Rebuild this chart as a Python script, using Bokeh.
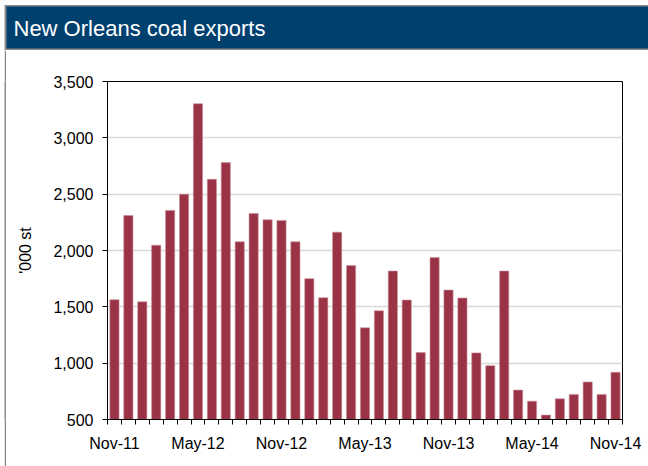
from bokeh.plotting import figure
from bokeh.layouts import column, row
from bokeh.models import FixedTicker, NumeralTickFormatter, Range1d, Spacer
from bokeh.core.properties import value
from bokeh.embed import file_html
from bokeh.resources import INLINE

# ---- data ----
months = ["Nov-11", "Dec-11", "Jan-12", "Feb-12", "Mar-12", "Apr-12", "May-12", "Jun-12",
          "Jul-12", "Aug-12", "Sep-12", "Oct-12", "Nov-12", "Dec-12", "Jan-13", "Feb-13",
          "Mar-13", "Apr-13", "May-13", "Jun-13", "Jul-13", "Aug-13", "Sep-13", "Oct-13",
          "Nov-13", "Dec-13", "Jan-14", "Feb-14", "Mar-14", "Apr-14", "May-14", "Jun-14",
          "Jul-14", "Aug-14", "Sep-14", "Oct-14", "Nov-14"]
exports = [1563, 2311, 1545, 2047, 2356, 2500, 3303, 2632, 2780, 2077, 2329, 2273, 2267,
           2077, 1750, 1581, 2163, 1866, 1314, 1465, 1818, 1560, 1094, 1937, 1649, 1578,
           1091, 978, 1818, 761, 663, 539, 684, 723, 833, 723, 919]
y_ticks = [500, 1000, 1500, 2000, 2500, 3000, 3500]
label_step = 6

title_text = "New Orleans coal exports"
y_label = "'000 st"

FONT = "Liberation Sans"
BAR = "#9B3346"
HEAD = "#00406F"
EDGE = "#8A8A8A"

W, H = 648, 466
HEAD_H = 50
GAP_W = 4
STRIP_W = 2

# ---- header bar ----
head = figure(width=W, height=HEAD_H, output_backend="svg", toolbar_location=None,
              x_range=Range1d(0, W), y_range=Range1d(HEAD_H, 0),
              x_axis_type=None, y_axis_type=None, min_border=0)
head.grid.visible = False
head.outline_line_color = None
head.background_fill_color = "white"
head.border_fill_color = "white"
head.quad(left=[4], right=[W], top=[4.5], bottom=[49.5], fill_color=EDGE, line_color=None)
head.quad(left=[6], right=[W], top=[6], bottom=[48], fill_color=HEAD, line_color=None)
head.text(x=[13], y=[27.5], text=[title_text], text_color="white",
          text_font=value(FONT), text_font_size="22px", text_baseline="middle")

# ---- left frame line ----
gap = Spacer(width=GAP_W, height=H - HEAD_H)
strip = figure(width=STRIP_W, height=H - HEAD_H, output_backend="svg", toolbar_location=None,
               x_range=Range1d(0, 1), y_range=Range1d(0, 1),
               x_axis_type=None, y_axis_type=None, min_border=0)
strip.grid.visible = False
strip.outline_line_color = None
strip.background_fill_color = EDGE
strip.border_fill_color = EDGE

# ---- chart ----
n = len(months)
xs = [i + 0.5 for i in range(n)]
left_used = GAP_W + STRIP_W

p = figure(width=W - left_used, height=H - HEAD_H, output_backend="svg", toolbar_location=None,
           x_range=Range1d(0, n), y_range=Range1d(y_ticks[0], y_ticks[-1]),
           min_border_left=107 - left_used, min_border_right=26, min_border_top=81 - HEAD_H,
           min_border_bottom=47)
p.background_fill_color = "white"
p.border_fill_color = "white"
p.outline_line_color = "black"
p.outline_line_width = 1

p.vbar(x=xs, top=exports, bottom=0, width=0.66, fill_color=BAR,
       line_color="#C7929B", line_width=0.6)

# x axis: ticks at month boundaries, labels every 6 months
label_pos = [i + 0.5 for i in range(0, n, label_step)]
p.xaxis.ticker = FixedTicker(ticks=label_pos, minor_ticks=list(range(0, n + 1)))
p.xaxis.major_label_overrides = {i + 0.5: months[i] for i in range(0, n, label_step)}
p.xaxis.major_tick_out = 0
p.xaxis.major_tick_in = 0
p.xaxis.minor_tick_out = 5
p.xaxis.minor_tick_in = 0
p.xaxis.minor_tick_line_color = "black"
p.xaxis.axis_line_color = "black"
p.xaxis.major_label_text_font = FONT
p.xaxis.major_label_text_font_size = "16px"
p.xaxis.major_label_text_color = "black"
p.xaxis.major_label_standoff = 10
p.xgrid.visible = False

# y axis
p.yaxis.ticker = FixedTicker(ticks=y_ticks)
p.yaxis.formatter = NumeralTickFormatter(format="0,0")
p.yaxis.major_tick_out = 5
p.yaxis.major_tick_in = 0
p.yaxis.minor_tick_line_color = None
p.yaxis.major_tick_line_color = "black"
p.yaxis.axis_line_color = "black"
p.yaxis.major_label_text_font = FONT
p.yaxis.major_label_text_font_size = "16px"
p.yaxis.major_label_text_color = "black"
p.yaxis.major_label_standoff = 9
p.yaxis.axis_label = y_label
p.yaxis.axis_label_text_font = FONT
p.yaxis.axis_label_text_font_size = "16px"
p.yaxis.axis_label_text_font_style = "normal"
p.yaxis.axis_label_text_color = "black"
p.yaxis.axis_label_standoff = 16
p.ygrid.ticker = FixedTicker(ticks=y_ticks)
p.ygrid.grid_line_color = "#D9D9D9"
p.ygrid.grid_line_width = 1.5

layout = column(head, row(gap, strip, p, spacing=0), spacing=0)

open("out.html", "w").write(file_html(layout, INLINE))
